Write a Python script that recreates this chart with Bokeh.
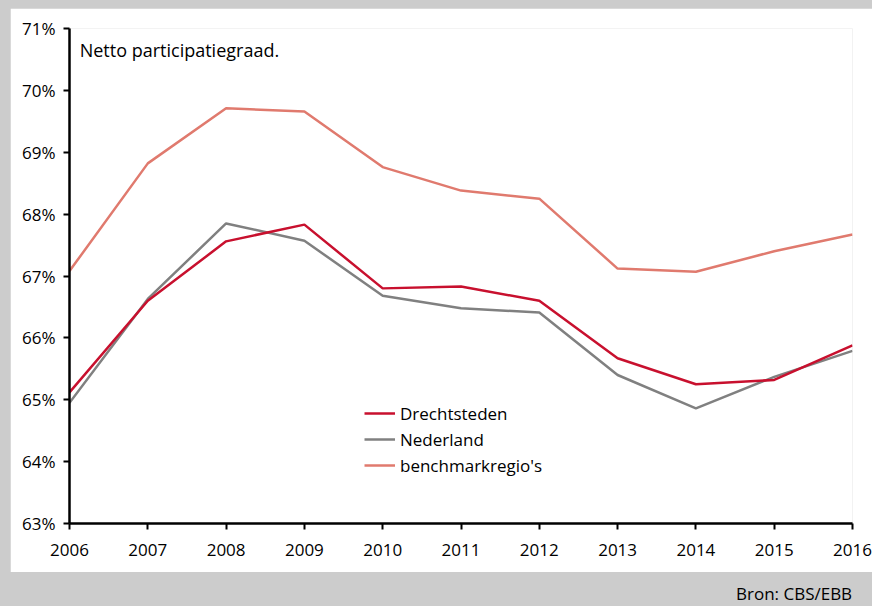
from bokeh.plotting import figure
from bokeh.models import (FixedTicker, PrintfTickFormatter, Legend, LegendItem,
                          Label, ColumnDataSource, Range1d)
from bokeh.layouts import column
from bokeh.embed import file_html
from bokeh.resources import INLINE

years = [2006, 2007, 2008, 2009, 2010, 2011, 2012, 2013, 2014, 2015, 2016]
drechtsteden = [65.12, 66.60, 67.56, 67.83, 66.80, 66.83, 66.60, 65.67, 65.25, 65.32, 65.88]
nederland = [64.95, 66.63, 67.85, 67.57, 66.68, 66.48, 66.41, 65.40, 64.86, 65.37, 65.79]
benchmark = [67.08, 68.82, 69.71, 69.66, 68.76, 68.38, 68.25, 67.12, 67.07, 67.40, 67.67]
y_ticks = [63, 64, 65, 66, 67, 68, 69, 70, 71]
series_names = ["Drechtsteden", "Nederland", "benchmarkregio's"]
series_colors = ["#c8102e", "#808080", "#e07a6e"]
title_text = "Netto participatiegraad."
source_text = "Bron: CBS/EBB"

FONT = "Open Sans"
GRAY = "#cccccc"

p = figure(width=862, height=564, output_backend="svg", toolbar_location=None,
           x_range=Range1d(years[0], years[-1]), y_range=Range1d(y_ticks[0], y_ticks[-1]),
           min_border_left=59, min_border_right=20, min_border_top=20, min_border_bottom=49)
p.margin = (8, 0, 0, 10)
p.background_fill_color = "white"
p.border_fill_color = "white"
p.outline_line_color = None
p.xgrid.visible = False
p.ygrid.visible = False

src = ColumnDataSource(dict(x=years, d=drechtsteden, n=nederland, b=benchmark))
r_b = p.line("x", "b", source=src, line_color=series_colors[2], line_width=2.5)
r_n = p.line("x", "n", source=src, line_color=series_colors[1], line_width=2.5)
r_d = p.line("x", "d", source=src, line_color=series_colors[0], line_width=2.5)

for ax in (p.xaxis[0], p.yaxis[0]):
    ax.axis_line_color = "black"
    ax.axis_line_width = 2.5
    ax.major_tick_line_color = "black"
    ax.major_tick_line_width = 2
    ax.major_tick_out = 6
    ax.major_tick_in = 0
    ax.minor_tick_line_color = None
    ax.major_label_text_font = FONT
    ax.major_label_text_font_size = "17px"
    ax.major_label_text_color = "black"

p.xaxis.ticker = FixedTicker(ticks=years)
p.xaxis.formatter = PrintfTickFormatter(format="%d")
p.xaxis.major_label_standoff = 14
p.yaxis.ticker = FixedTicker(ticks=y_ticks)
p.yaxis.formatter = PrintfTickFormatter(format="%d%%")
p.yaxis.major_label_standoff = 8

p.add_layout(Label(x=2006.13, y=70.85, text=title_text, text_font=FONT,
                   text_font_size="18px", text_baseline="top", text_color="black"))

legend = Legend(items=[LegendItem(label=series_names[0], renderers=[r_d]),
                       LegendItem(label=series_names[1], renderers=[r_n]),
                       LegendItem(label=series_names[2], renderers=[r_b])],
                location=(295, 45), orientation="vertical")
legend.border_line_color = None
legend.background_fill_alpha = 0
legend.padding = 0
legend.margin = 0
legend.spacing = 0
legend.glyph_width = 31
legend.glyph_height = 26
legend.label_height = 26
legend.label_standoff = 5
legend.label_text_font = FONT
legend.label_text_font_size = "17px"
legend.label_text_color = "black"
p.add_layout(legend, "center")

b = figure(width=872, height=34, output_backend="svg", toolbar_location=None,
           x_range=Range1d(0, 1), y_range=Range1d(0, 1),
           x_axis_location=None, y_axis_location=None,
           min_border_left=0, min_border_right=0, min_border_top=0, min_border_bottom=0)
b.margin = (0, 0, 0, 0)
b.grid.visible = False
b.outline_line_color = None
b.background_fill_color = GRAY
b.border_fill_color = GRAY
b.add_layout(Label(x=0.9995, y=0.04, text=source_text,
                   text_font=FONT, text_font_size="17px", text_align="right",
                   text_baseline="bottom", text_color="black"))

layout = column(p, b, spacing=0, width=872, styles={"background-color": GRAY})
open("out.html", "w").write(file_html(layout, INLINE))
